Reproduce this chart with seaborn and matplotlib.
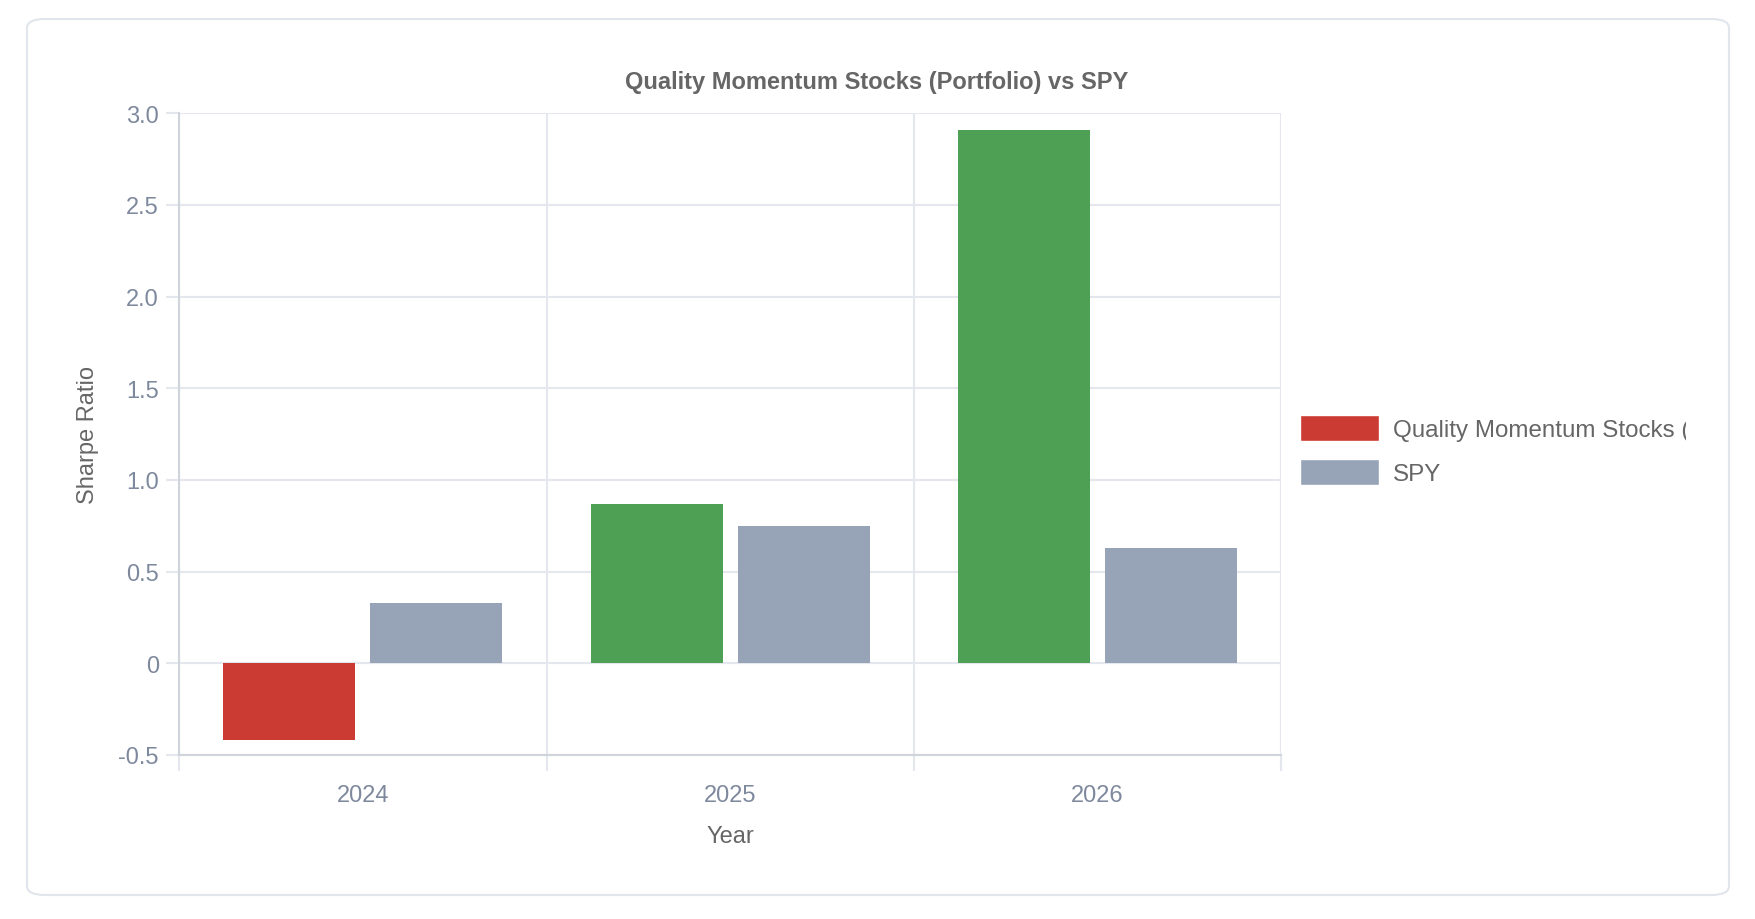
import pandas as pd
import numpy as np
import matplotlib.pyplot as plt
import seaborn as sns
from matplotlib.patches import Patch, FancyBboxPatch
from matplotlib.transforms import Bbox
from matplotlib.ticker import FuncFormatter

# datos
years = ['2024', '2025', '2026']
portfolio = [-0.42, 0.87, 2.91]
spy = [0.33, 0.75, 0.63]
series_names = ['Quality Momentum Stocks (Portfolio)', 'SPY']

df = pd.DataFrame({
    'Year': years * 2,
    'Series': [series_names[0]] * 3 + [series_names[1]] * 3,
    'Sharpe': portfolio + spy,
})

red = '#cb3a33'
green = '#4ea154'
slate = '#97a4b7'
grid_c = '#e4e7ee'
axis_c = '#cfd3da'
tick_c = '#7f899d'
text_c = '#666666'

sns.set_style('white')
plt.rcParams['font.family'] = ['Liberation Sans', 'DejaVu Sans']

fig = plt.figure(figsize=(17.56, 9.2), dpi=100)

# marco de la tarjeta
card = FancyBboxPatch((27 / 1756, 1 - 896 / 920), 1702 / 1756, 876 / 920,
                      boxstyle='round,pad=0,rounding_size=0.01',
                      transform=fig.transFigure, facecolor='white',
                      edgecolor='#e1e5ec', linewidth=1.5, zorder=-10)
fig.patches.append(card)

ax = fig.add_axes([0.102, 0.1783, 0.6277, 0.6975])
ax.patch.set_alpha(0)
sns.barplot(df, x='Year', y='Sharpe', hue='Series', palette=[red, slate],
            width=0.8, gap=0.1, saturation=1, errorbar=None, legend=False, ax=ax)

# color de barras del portafolio segun signo
for bar, v in zip(ax.containers[0], portfolio):
    bar.set_facecolor(green if v >= 0 else red)
for bar in ax.patches:
    bar.set_linewidth(0)

ax.set_xlim(-0.5, 2.5)
ax.set_ylim(-0.5, 3.0)
ax.set_yticks(np.arange(-0.5, 3.01, 0.5))
ax.yaxis.set_major_formatter(FuncFormatter(lambda v, p: '0' if abs(v) < 1e-9 else f'{v:.1f}'))
ax.set_xticks([-0.5, 0.5, 1.5, 2.5], minor=True)
ax.grid(True, axis='y', color=grid_c, linewidth=1.5)
ax.grid(True, axis='x', which='minor', color=grid_c, linewidth=1.5)
ax.set_axisbelow(True)

for s in ['top', 'right']:
    ax.spines[s].set_visible(False)
ax.spines['left'].set_color(axis_c)
ax.spines['bottom'].set_color(axis_c)
ax.spines['left'].set_linewidth(1.5)
ax.spines['bottom'].set_linewidth(1.5)

ax.tick_params(axis='y', left=True, length=9.6, width=1.5, color=grid_c, pad=5,
               labelsize=17, labelcolor=tick_c)
ax.tick_params(axis='x', which='major', bottom=True, length=0, pad=21,
               labelsize=17, labelcolor=tick_c)
ax.tick_params(axis='x', which='minor', bottom=True, length=11.3, width=1.5, color=grid_c)

ax.set_xlabel('Year', fontsize=17, color=text_c, labelpad=13.5)
ax.set_ylabel('Sharpe Ratio', fontsize=17, color=text_c, labelpad=14)

fig.text(0.499, 1 - 82 / 920, 'Quality Momentum Stocks (Portfolio) vs SPY',
         ha='center', va='center', fontsize=17, fontweight='bold', color=text_c)

handles = [Patch(facecolor=red), Patch(facecolor=slate)]
leg = fig.legend(handles, series_names, loc='upper left',
                 bbox_to_anchor=(1300 / 1756, 1 - 416 / 920), frameon=False,
                 fontsize=17.4, labelcolor=text_c, handlelength=3.27, handleheight=1.27,
                 handletextpad=0.58, labelspacing=0.73, borderaxespad=0, borderpad=0)
for t in leg.get_texts():
    t.set_clip_box(Bbox([[0, 0], [1686, 920]]))
    t.set_clip_on(True)

fig.savefig('out.png', dpi=100, facecolor='white')
